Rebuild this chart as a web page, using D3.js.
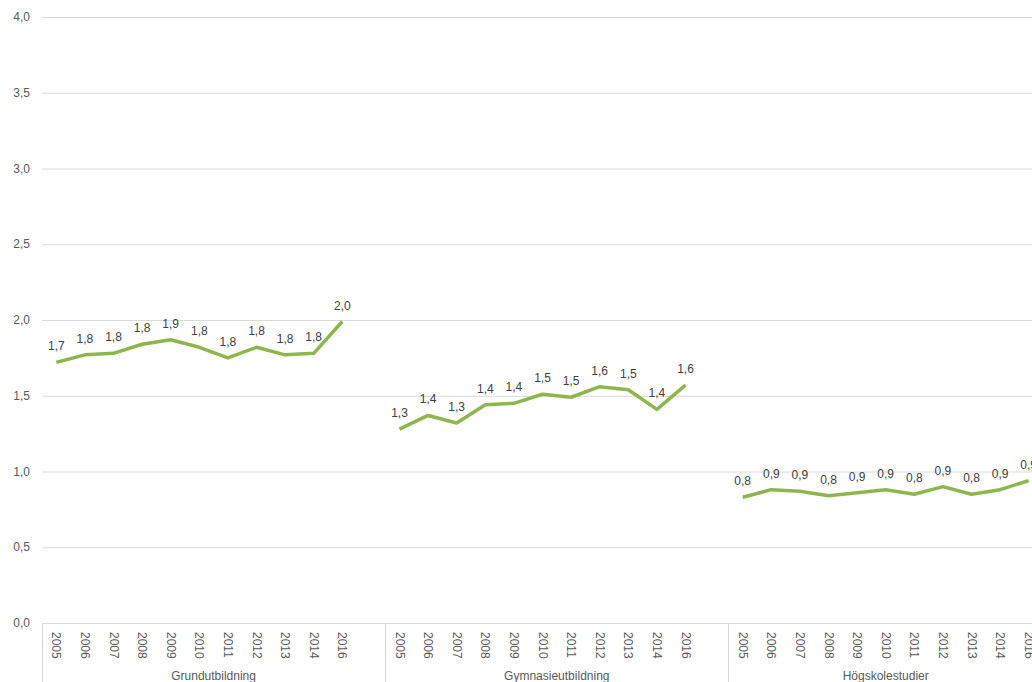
<!DOCTYPE html>
<html>
<head>
<meta charset="utf-8">
<script src="https://cdn.jsdelivr.net/npm/d3@7"></script>
<style>
  body { margin: 0; background: #fff; overflow: hidden; }
  text { font-family: "Liberation Sans", Arial, sans-serif; }
</style>
</head>
<body>
<div id="chart"></div>
<script>
// categories and values
var groups = ["Grundutbildning", "Gymnasieutbildning", "Högskolestudier"];
var years = ["2005", "2006", "2007", "2008", "2009", "2010", "2011", "2012", "2013", "2014", "2016"];
var grund = [1.72, 1.77, 1.78, 1.84, 1.87, 1.82, 1.75, 1.82, 1.77, 1.78, 1.99];
var gymn = [1.28, 1.37, 1.32, 1.44, 1.45, 1.51, 1.49, 1.56, 1.54, 1.41, 1.57];
var hogsk = [0.83, 0.88, 0.87, 0.84, 0.86, 0.88, 0.85, 0.90, 0.85, 0.88, 0.94];
var yTicks = [0, 0.5, 1, 1.5, 2, 2.5, 3, 3.5, 4];

var series = [grund, gymn, hogsk];

// set the dimensions and margins of the graph
var W = 1032, H = 682;
var margin = { top: 17, left: 42 };
var slot = 28.6;
var plotBottom = 623;

// category slots: each group gets its years, a blank slot follows except after the last
var slots = [];
groups.forEach(function (g, gi) {
    years.forEach(function (y) { slots.push(g + "|" + y); });
    if (gi < groups.length - 1) slots.push(g + "|blank");
});

var x = d3.scaleBand()
    .domain(slots)
    .range([margin.left, margin.left + slots.length * slot]);

var y = d3.scaleLinear()
    .domain([0, 4])
    .range([plotBottom, margin.top]);

var svg = d3.select("#chart")
    .append("svg")
    .attr("width", W)
    .attr("height", H);

// y gridlines
svg.append("g")
    .selectAll("line")
    .data(yTicks)
    .enter()
    .append("line")
    .attr("x1", margin.left)
    .attr("x2", W)
    .attr("y1", function (d) { return y(d) + 0.5; })
    .attr("y2", function (d) { return y(d) + 0.5; })
    .attr("stroke", "#d9d9d9")
    .attr("stroke-width", 1);

// y tick labels
svg.append("g")
    .selectAll("text")
    .data(yTicks)
    .enter()
    .append("text")
    .attr("x", 30)
    .attr("y", function (d) { return y(d); })
    .attr("text-anchor", "end")
    .attr("dominant-baseline", "central")
    .style("font-size", "12px")
    .style("fill", "#595959")
    .text(function (d) { return d3.format(".1f")(d).replace(".", ","); });

// group separators on the category axis
var bounds = groups.map(function (g) { return x(g + "|2005"); });
svg.append("g")
    .selectAll("line")
    .data(bounds)
    .enter()
    .append("line")
    .attr("x1", function (d) { return Math.round(d) + 0.5; })
    .attr("x2", function (d) { return Math.round(d) + 0.5; })
    .attr("y1", plotBottom)
    .attr("y2", H)
    .attr("stroke", "#d9d9d9")
    .attr("stroke-width", 1);

// year labels, rotated
svg.append("g")
    .selectAll("text")
    .data(slots.filter(function (s) { return s.indexOf("blank") < 0; }))
    .enter()
    .append("text")
    .attr("transform", function (d) {
        return "translate(" + (x(d) + x.bandwidth() / 2) + "," + 632 + ") rotate(90)";
    })
    .attr("text-anchor", "start")
    .attr("dominant-baseline", "central")
    .style("font-size", "12px")
    .style("fill", "#595959")
    .text(function (d) { return d.split("|")[1]; });

// group labels
svg.append("g")
    .selectAll("text")
    .data(groups)
    .enter()
    .append("text")
    .attr("x", function (g) {
        var a = x(g + "|2005"), b = x(g + "|2016") + x.bandwidth();
        if (g !== groups[groups.length - 1]) b += slot;
        return (a + b) / 2;
    })
    .attr("y", 680)
    .attr("text-anchor", "middle")
    .style("font-size", "12px")
    .style("fill", "#595959")
    .text(function (g) { return g; });

// lines, one per group
var line = d3.line()
    .x(function (d) { return x(d.key) + x.bandwidth() / 2; })
    .y(function (d) { return y(d.v); });

var pts = series.map(function (vals, gi) {
    return vals.map(function (v, i) { return { key: groups[gi] + "|" + years[i], v: v }; });
});

svg.append("g")
    .selectAll("path")
    .data(pts)
    .enter()
    .append("path")
    .attr("fill", "none")
    .attr("stroke", "#8db64f")
    .attr("stroke-width", 3.5)
    .attr("stroke-linejoin", "round")
    .attr("d", line);

// data labels
svg.append("g")
    .selectAll("text")
    .data(d3.merge(pts))
    .enter()
    .append("text")
    .attr("x", function (d) { return x(d.key) + x.bandwidth() / 2; })
    .attr("y", function (d) { return y(d.v) - 12; })
    .attr("text-anchor", "middle")
    .style("font-size", "12px")
    .style("fill", "#404040")
    .text(function (d) { return d3.format(".1f")(d.v).replace(".", ","); });
</script>
</body>
</html>
